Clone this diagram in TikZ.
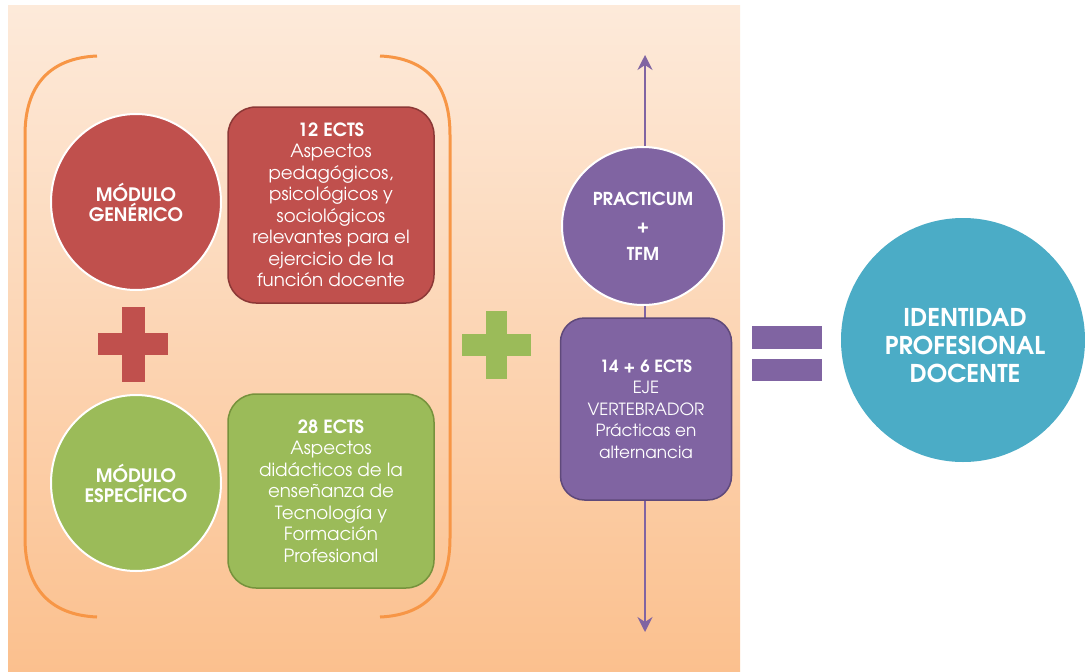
\documentclass[tikz,border=0pt]{standalone}
\usepackage{fontspec}
\setmainfont{texgyreadventor}[Extension=.otf, UprightFont=*-regular, BoldFont=*-bold, ItalicFont=*-italic, BoldItalicFont=*-bolditalic]
\usetikzlibrary{arrows.meta,shapes.geometric}
\definecolor{bgtop}{RGB}{253,234,218}
\definecolor{bgbot}{RGB}{251,192,142}
\definecolor{redc}{RGB}{192,80,77}
\definecolor{redd}{RGB}{140,56,54}
\definecolor{greenc}{RGB}{155,187,89}
\definecolor{greend}{RGB}{118,146,60}
\definecolor{purc}{RGB}{128,100,162}
\definecolor{purd}{RGB}{95,73,122}
\definecolor{bluec}{RGB}{75,172,198}
\definecolor{orangec}{RGB}{247,150,70}
\tikzset{
  circ/.style={ellipse, draw=white, line width=2pt, text=white, align=center, inner sep=0pt,
    font=\fontsize{18.5}{20}\selectfont\bfseries},
  rbox/.style={rectangle, rounded corners=28pt, line width=1.5pt, text=white, align=center, inner sep=0pt,
    font=\fontsize{18.2}{21.5}\selectfont},
  bracket/.style={draw=orangec, line width=3pt},
  axisarrow/.style={draw=purc, line width=2pt, {Stealth[length=15pt,width=15pt,inset=5pt]}-{Stealth[length=15pt,width=15pt,inset=5pt]}},
}
\begin{document}
\begin{tikzpicture}[x=1pt,y=-1pt]
\useasboundingbox (0,0) rectangle (1085,672);
\fill[white] (0,0) rectangle (1085,672);
\shade[top color=bgtop, bottom color=bgbot] (8,5) rectangle (740,672);
% brackets
\draw[bracket] (97,56) .. controls (50,58) and (25,85) .. (25,135) -- (25,538) .. controls (25,588) and (50,615) .. (97,617);
\draw[bracket] (380,56) .. controls (427,58) and (450,85) .. (450,135) -- (450,538) .. controls (450,588) and (427,615) .. (380,617);
% vertical axis arrow
\coordinate (atop) at (645,55);
\coordinate (abot) at (645,632);
\draw[axisarrow] (atop) -- (abot);
% circles
\node[circ, fill=redc, minimum width=170pt, minimum height=176pt] (gen) at (136,202) {MÓDULO\\GENÉRICO};
\node[circ, fill=greenc, minimum width=170pt, minimum height=176pt] (esp) at (136,483) {MÓDULO\\ESPECÍFICO};
% boxes
\node[rbox, fill=redc, draw=redd, minimum width=206pt, minimum height=196pt] (b12) at (331,205)
  {\textbf{12 ECTS}\\Aspectos\\pedagógicos,\\psicológicos y\\sociológicos\\relevantes para el\\ejercicio de la\\función docente};
\node[rbox, fill=greenc, draw=greend, minimum width=206pt, minimum height=194pt] (b28) at (331,491)
  {\textbf{28 ECTS}\\Aspectos\\didácticos de la\\enseñanza de\\Tecnología y\\Formación\\Profesional};
% red plus
\fill[redc] (122,307) rectangle (145,382);
\fill[redc] (98,333) rectangle (168,355);
% green plus
\fill[greenc] (486,311) rectangle (507,379);
\fill[greenc] (462,334) rectangle (531,356);
% purple
\node[circ, fill=purc, minimum width=162pt, minimum height=158pt, font=\fontsize{17.8}{27.5}\selectfont\bfseries] (prac) at (643,226) {PRACTICUM\\+\\TFM};
\node[rbox, fill=purc, draw=purd, rounded corners=24pt, minimum width=171pt, minimum height=182pt, font=\fontsize{16.8}{21.5}\selectfont] (eje) at (646,409)
  {\textbf{14 + 6 ECTS}\\EJE\\VERTEBRADOR\\Prácticas en\\alternancia};
% equals
\fill[purc] (752,326) rectangle (822,349);
\fill[purc] (752,359) rectangle (822,381);
% blue circle
\node[circ, fill=bluec, draw=none, minimum size=244pt] (idp) at (963,340) {};
\node[text=white, align=center, inner sep=0pt, font=\fontsize{24.5}{28}\selectfont\bfseries] (idptext) at (965,346) {IDENTIDAD\\PROFESIONAL\\DOCENTE};
\end{tikzpicture}
\end{document}
